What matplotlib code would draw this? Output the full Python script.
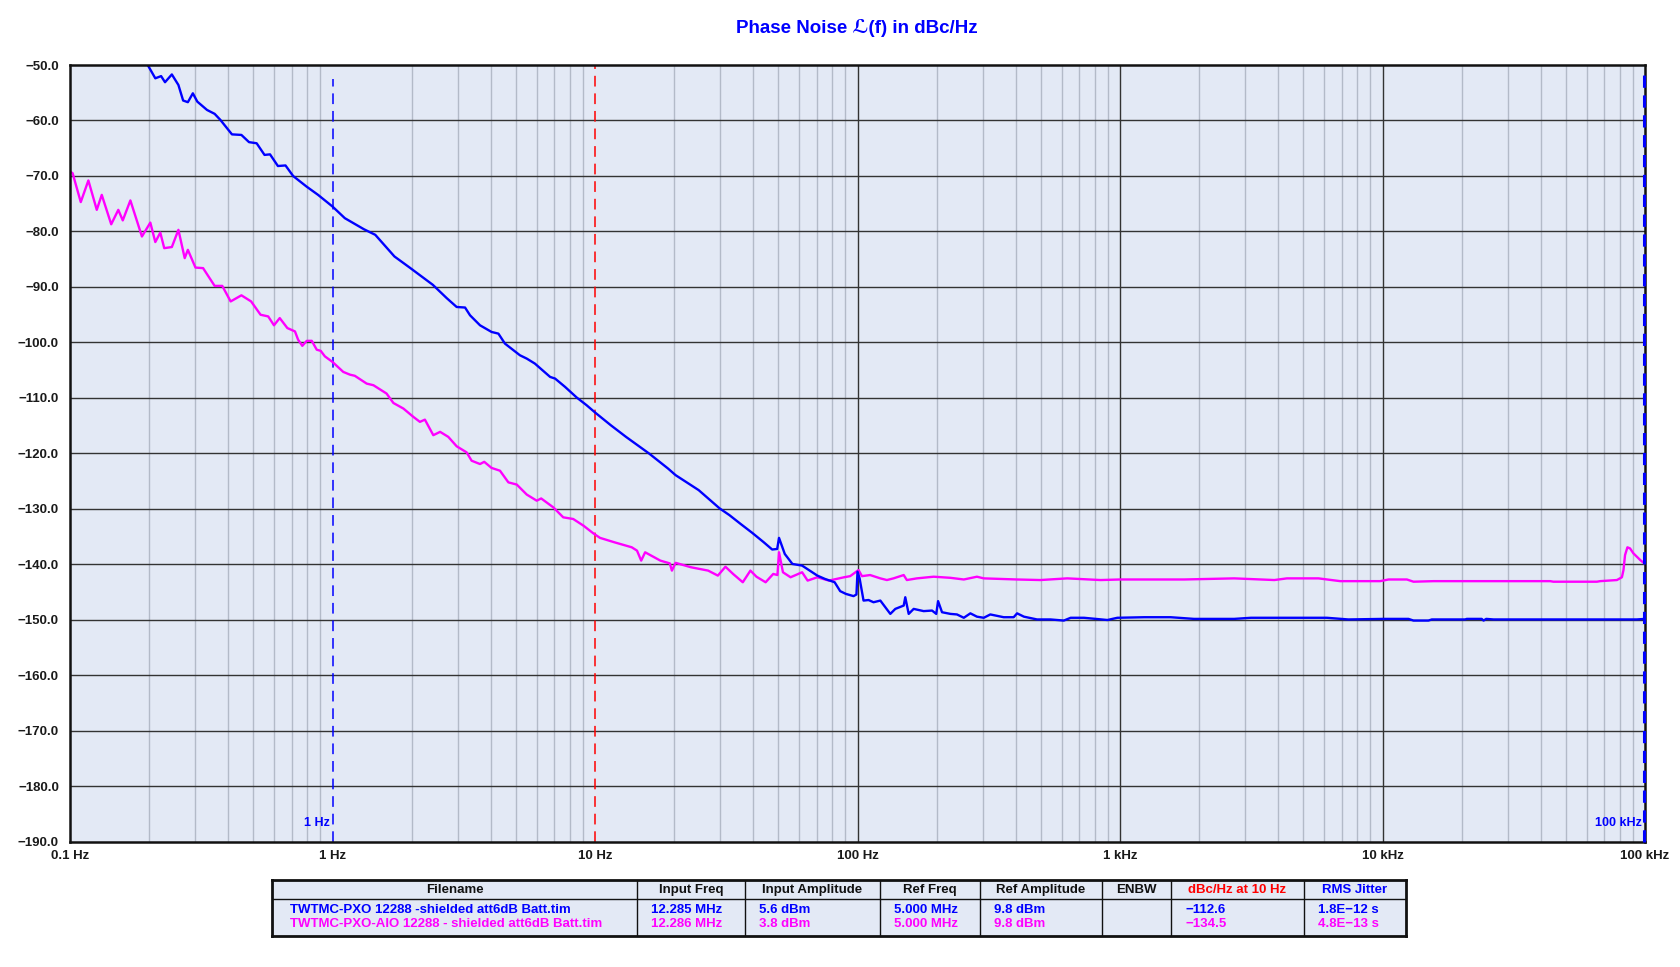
import matplotlib
matplotlib.use("Agg")
import matplotlib.pyplot as plt
import numpy as np

plt.rcParams['font.family'] = ['Liberation Sans', 'DejaVu Sans']

# log10(frequency in Hz) and L(f) in dBc/Hz
blue_logf = [-0.72, -0.704, -0.675, -0.653, -0.638, -0.612, -0.587, -0.569, -0.551, -0.532, -0.515,
             -0.478, -0.449, -0.427, -0.383, -0.347, -0.318, -0.289, -0.259, -0.238, -0.208, -0.179,
             -0.150, -0.099, -0.055, 0.0, 0.047, 0.120, 0.163, 0.236, 0.294, 0.382, 0.435, 0.473,
             0.505, 0.524, 0.562, 0.606, 0.632, 0.657, 0.714, 0.740, 0.771, 0.829, 0.848, 0.886,
             0.930, 0.968, 1.0, 1.060, 1.118, 1.206, 1.278, 1.307, 1.395, 1.475, 1.512, 1.555,
             1.599, 1.643, 1.675, 1.694, 1.701, 1.723, 1.752, 1.789, 1.818, 1.847, 1.876, 1.913,
             1.934, 1.956, 1.985, 1.996, 2.0, 2.008, 2.023, 2.042, 2.061, 2.087, 2.106, 2.125,
             2.144, 2.176, 2.182, 2.195, 2.214, 2.252, 2.284, 2.300, 2.307, 2.322, 2.354, 2.379,
             2.405, 2.430, 2.455, 2.481, 2.506, 2.557, 2.595, 2.608, 2.634, 2.684, 2.735, 2.786,
             2.812, 2.863, 2.952, 2.990, 3.092, 3.193, 3.282, 3.435, 3.499, 3.690, 3.788, 3.870,
             4.004, 4.099, 4.118, 4.175, 4.188, 4.315, 4.321, 4.378, 4.385, 4.395, 4.423, 4.969,
             5.0]
blue_db = [-48.5, -50.0, -52.4, -52.0, -53.1, -51.7, -53.6, -56.4, -56.7, -55.1, -56.6,
           -58.1, -58.8, -59.9, -62.5, -62.6, -63.9, -64.1, -66.2, -66.1, -68.2, -68.1,
           -70.0, -71.9, -73.4, -75.5, -77.6, -79.6, -80.6, -84.5, -86.5, -89.6, -92.0, -93.6,
           -93.7, -95.1, -96.9, -98.1, -98.4, -100.2, -102.3, -102.9, -103.8, -106.2, -106.5, -108.0,
           -109.9, -111.3, -112.6, -114.9, -117.0, -120.0, -122.7, -123.9, -126.6, -129.9, -131.1, -132.7,
           -134.3, -136.0, -137.3, -137.2, -135.2, -138.1, -139.9, -140.2, -141.1, -142.0, -142.6, -143.2,
           -144.8, -145.3, -145.7, -145.4, -141.3, -142.5, -146.5, -146.4, -146.8, -146.5, -147.7, -148.9,
           -148.0, -147.4, -145.9, -148.9, -148.0, -148.4, -148.3, -148.9, -146.6, -148.6, -148.9, -149.0,
           -149.6, -148.8, -149.4, -149.6, -149.0, -149.5, -149.5, -148.8, -149.4, -149.9, -149.9, -150.1,
           -149.6, -149.6, -150.0, -149.6, -149.5, -149.5, -149.8, -149.8, -149.6, -149.6, -149.6, -149.9,
           -149.8, -149.8, -150.1, -150.1, -149.9, -149.9, -149.8, -149.8, -150.1, -149.8, -149.9, -149.9,
           -149.8]

mag_logf = [-1.0, -0.990, -0.959, -0.930, -0.898, -0.879, -0.843, -0.816, -0.799, -0.770, -0.726,
            -0.694, -0.675, -0.656, -0.641, -0.612, -0.587, -0.563, -0.551, -0.522, -0.493, -0.449,
            -0.420, -0.388, -0.347, -0.310, -0.274, -0.245, -0.223, -0.201, -0.172, -0.143, -0.131,
            -0.115, -0.098, -0.079, -0.060, -0.045, -0.029, 0.0, 0.041, 0.067, 0.085, 0.111, 0.130,
            0.156, 0.206, 0.232, 0.270, 0.308, 0.333, 0.352, 0.384, 0.410, 0.441, 0.473, 0.511,
            0.530, 0.562, 0.578, 0.606, 0.638, 0.670, 0.702, 0.740, 0.778, 0.795, 0.841, 0.879,
            0.917, 0.956, 0.994, 1.019, 1.074, 1.140, 1.160, 1.176, 1.191, 1.249, 1.285, 1.293,
            1.307, 1.366, 1.431, 1.468, 1.497, 1.526, 1.563, 1.592, 1.615, 1.650, 1.679, 1.695,
            1.701, 1.716, 1.745, 1.789, 1.810, 1.847, 1.891, 1.949, 1.972, 2.004, 2.017, 2.048,
            2.087, 2.112, 2.137, 2.176, 2.188, 2.226, 2.290, 2.354, 2.405, 2.455, 2.481, 2.608,
            2.697, 2.799, 2.926, 3.0, 3.244, 3.435, 3.588, 3.636, 3.756, 3.839, 3.991, 4.023,
            4.093, 4.118, 4.194, 4.639, 4.651, 4.817, 4.829, 4.893, 4.912, 4.918, 4.924, 4.933,
            4.943, 4.956, 4.982, 5.0]
mag_db = [-69.2, -69.5, -74.7, -70.8, -76.1, -73.4, -78.7, -76.1, -78.0, -74.4, -80.9,
          -78.4, -81.9, -80.2, -83.0, -82.8, -79.7, -84.8, -83.3, -86.5, -86.6, -89.8,
          -89.8, -92.6, -91.5, -92.6, -95.0, -95.3, -96.9, -95.6, -97.4, -98.0, -99.5,
          -100.6, -99.7, -99.7, -101.3, -101.5, -102.5, -103.5, -105.3, -105.8, -106.0, -106.8, -107.4,
          -107.7, -109.2, -110.9, -111.9, -113.4, -114.3, -113.9, -116.7, -116.1, -117.0, -118.7, -119.8,
          -121.3, -121.9, -121.5, -122.6, -123.1, -125.2, -125.6, -127.4, -128.5, -128.1, -129.7, -131.5,
          -131.8, -133.0, -134.4, -135.2, -136.0, -136.9, -137.5, -139.3, -137.8, -139.3, -139.8, -141.1,
          -139.7, -140.5, -141.1, -142.0, -140.4, -141.7, -143.2, -141.1, -142.2, -143.2, -141.7, -141.9,
          -137.8, -141.4, -142.3, -141.4, -142.9, -142.3, -142.9, -142.3, -142.1, -141.0, -142.1, -141.9,
          -142.5, -142.8, -142.5, -141.9, -142.8, -142.5, -142.2, -142.4, -142.7, -142.2, -142.5, -142.7,
          -142.8, -142.5, -142.8, -142.7, -142.7, -142.5, -142.8, -142.5, -142.5, -143.0, -143.0, -142.7,
          -142.7, -143.1, -143.0, -143.0, -143.1, -143.1, -143.0, -142.8, -142.3, -141.0, -138.3, -136.9,
          -137.1, -138.0, -139.2, -139.9]

xticks = [0.1, 1, 10, 100, 1e3, 1e4, 1e5]
xlabels = ['0.1 Hz', '1 Hz', '10 Hz', '100 Hz', '1 kHz', '10 kHz', '100 kHz']
yticks = list(range(-190, -49, 10))

col_names = ['Filename', 'Input Freq', 'Input Amplitude', 'Ref Freq', 'Ref Amplitude',
             'ENBW', 'dBc/Hz at 10 Hz', 'RMS Jitter']
row_blue = ['TWTMC-PXO 12288 -shielded att6dB Batt.tim', '12.285 MHz', '5.6 dBm', '5.000 MHz',
            '9.8 dBm', '', '\u2212112.6', '1.8E\u221212 s']
row_mag = ['TWTMC-PXO-AIO 12288 - shielded att6dB Batt.tim', '12.286 MHz', '3.8 dBm', '5.000 MHz',
           '9.8 dBm', '', '\u2212134.5', '4.8E\u221213 s']

BLUE = '#0000ff'
MAG = '#ff00ff'
BG = '#e3e9f5'

W, H = 1680, 967
fig = plt.figure(figsize=(16.8, 9.67), dpi=100)
ax = fig.add_axes([70 / W, 1 - 842 / H, (1645 - 70) / W, (842 - 65) / H])
ax.set_facecolor(BG)
ax.set_xscale('log')
ax.set_xlim(0.1, 1e5)
ax.set_ylim(-190, -50)

# grid
for dec in [0.1, 1, 10, 100, 1000, 10000]:
    for m in range(2, 10):
        ax.axvline(dec * m, color='#b3bac8', lw=1, zorder=1)
for f in [100, 1e3, 1e4]:
    ax.axvline(f, color='#333333', lw=1, zorder=1.5)
for y in yticks[1:-1]:
    ax.axhline(y, color='#333333', lw=1, zorder=1.5)

# markers
ax.plot([1, 1], [-190, -52.5], color=BLUE, lw=1.1, dashes=(7, 4.5), zorder=2)
ax.plot([10, 10], [-190, -50], color='#ff0000', lw=1.1, dashes=(7, 4.5), zorder=2)
ax.plot([0.995e5, 0.995e5], [-190, -51.5], color=BLUE, lw=2.2, dashes=(4, 2.5), zorder=7,
        clip_on=False)
ax.text(0.98, -186.6, '1 Hz', color=BLUE, fontsize=9, fontweight='bold', ha='right', va='center')
ax.text(0.97e5, -186.6, '100 kHz', color=BLUE, fontsize=9, fontweight='bold', ha='right', va='center')

ax.plot(10 ** np.array(mag_logf), mag_db, color=MAG, lw=1.7, zorder=3)
ax.plot(10 ** np.array(blue_logf), blue_db, color=BLUE, lw=1.7, zorder=4)

ax.set_xticks(xticks)
ax.set_xticklabels(xlabels)
ax.set_xticks([], minor=True)
ax.set_yticks(yticks)
ax.set_yticklabels(['\u2212%.1f' % abs(v) for v in yticks])
ax.tick_params(axis='both', length=0, labelsize=9.5, colors='#1a1a1a')
ax.tick_params(axis='y', pad=8)
ax.tick_params(axis='x', pad=6)
for lab in ax.get_xticklabels() + ax.get_yticklabels():
    lab.set_fontweight('bold')
for s in ax.spines.values():
    s.set_color('#111111')
    s.set_linewidth(1.8)
    s.set_zorder(6)

fig.text(857 / W, 1 - 28 / H, 'Phase Noise \u2112(f) in dBc/Hz', color=BLUE, fontsize=13.5,
         fontweight='bold', ha='center', va='center')

# table
tx0, tx1, ty0, ty1 = 272, 1406, 880, 936
tab = fig.add_axes([tx0 / W, 1 - ty1 / H, (tx1 - tx0) / W, (ty1 - ty0) / H])
tab.set_xlim(tx0, tx1)
tab.set_ylim(ty1, ty0)
tab.set_facecolor(BG)
tab.set_xticks([])
tab.set_yticks([])
for s in tab.spines.values():
    s.set_linewidth(2)
    s.set_color('#111111')
col_x = [272, 637, 745, 880, 980, 1102, 1171, 1304, 1406]
for cx in col_x[1:-1]:
    tab.plot([cx, cx], [ty0, ty1], color='#111111', lw=1)
tab.plot([tx0, tx1], [899, 899], color='#111111', lw=1)
head_colors = ['#111111'] * 6 + ['#ff0000', BLUE]
for i, name in enumerate(col_names):
    tab.text((col_x[i] + col_x[i + 1]) / 2, 890, name, ha='center', va='center',
             fontsize=9.5, fontweight='bold', color=head_colors[i])
for row, yy, c in [(row_blue, 910, BLUE), (row_mag, 924, MAG)]:
    for i, val in enumerate(row):
        off = 18 if i == 0 else 14
        tab.text(col_x[i] + off, yy, val, ha='left', va='center', fontsize=9.5,
                 fontweight='bold', color=c)

fig.savefig('out.png', dpi=100)
